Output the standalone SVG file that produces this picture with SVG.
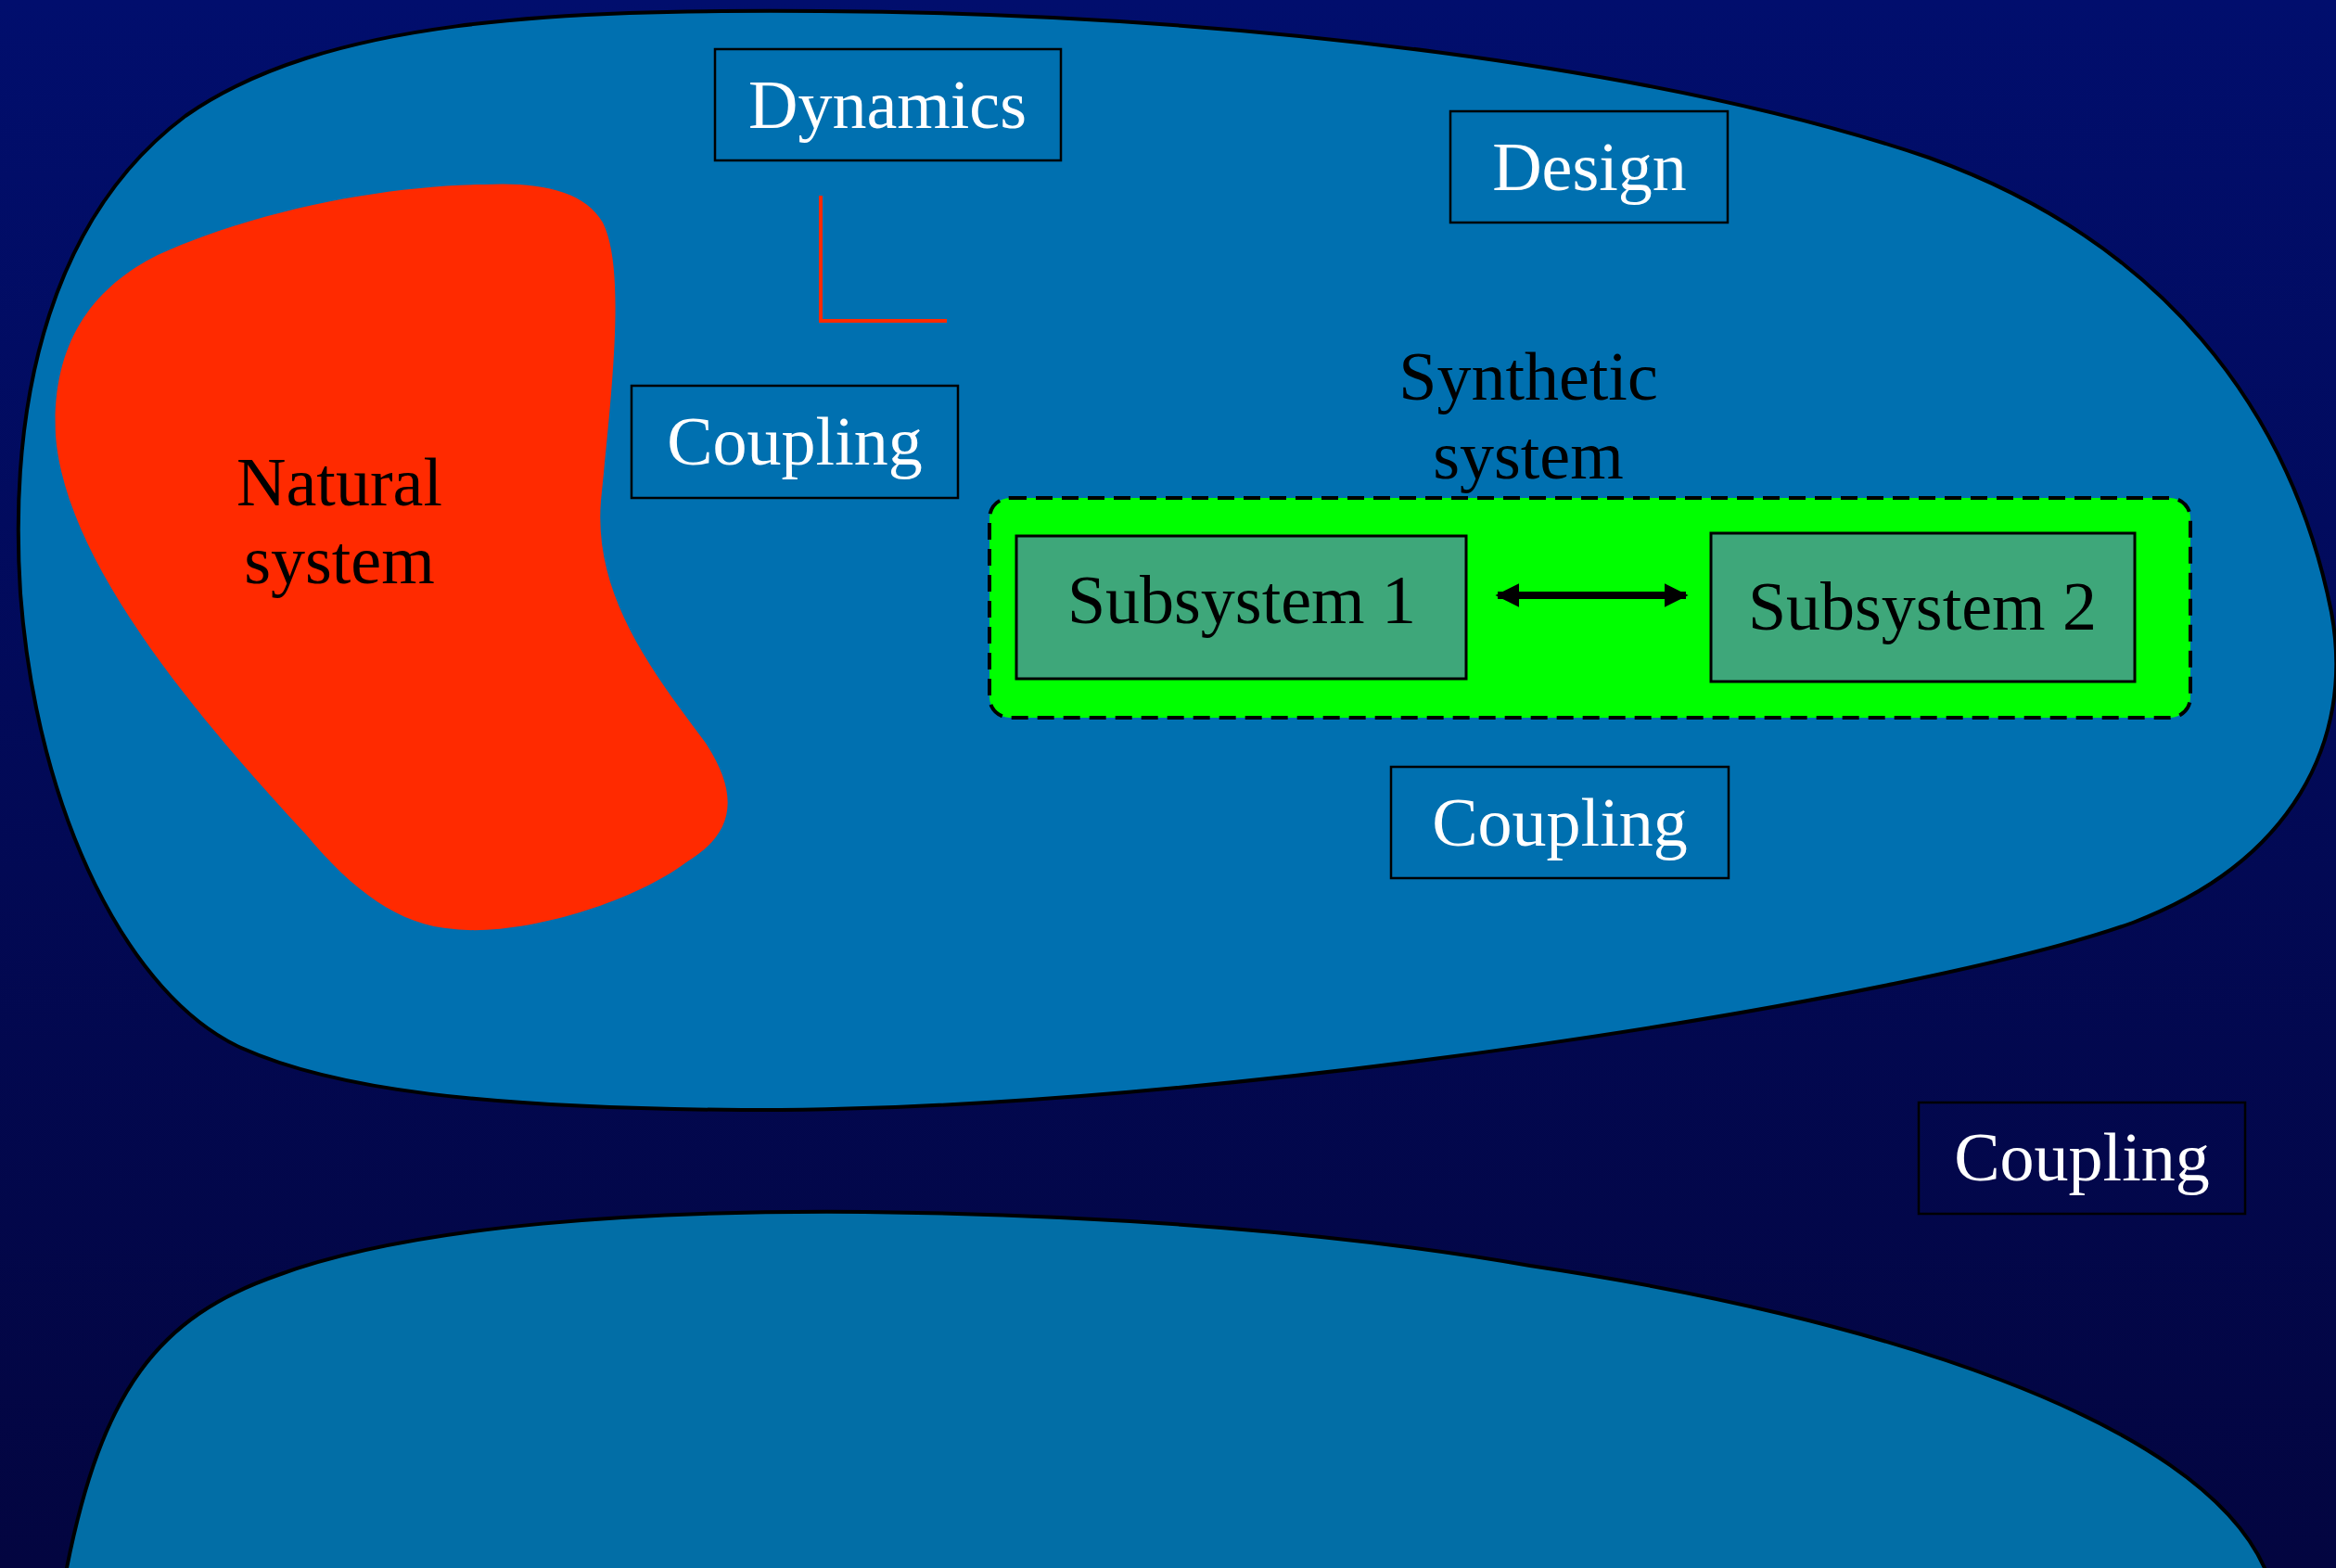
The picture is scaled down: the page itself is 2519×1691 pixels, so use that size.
<svg xmlns="http://www.w3.org/2000/svg" width="2519" height="1691" viewBox="0 0 2519 1691">
<defs>
<linearGradient id="bg" x1="0" y1="0" x2="0" y2="1">
<stop offset="0" stop-color="#010e6d"/>
<stop offset="1" stop-color="#030540"/>
</linearGradient>
<marker id="ah" viewBox="0 0 10 10" refX="9" refY="5" markerWidth="3.2" markerHeight="3.2" orient="auto-start-reverse" markerUnits="strokeWidth">
<path d="M0,0 L10,5 L0,10 Z" fill="#000"/>
</marker>
<style>
.lbl{font-family:"Liberation Serif","Times New Roman",serif;font-size:74px;text-anchor:middle}
.w{fill:#fff}
.k{fill:#000}
.box{fill:none;stroke:#000;stroke-width:2.5}
.sub{fill:#3ea77a;stroke:#000;stroke-width:3}
</style>
</defs>
<rect x="0" y="0" width="2519" height="1691" fill="url(#bg)"/>
<g id="design-space">
<path d="M885,12 C1350,15 1800,75 2080,170 C2330,260 2470,440 2514,660 C2540,800 2470,930 2300,995 C2080,1075 1300,1200 800,1197 C520,1195 360,1175 260,1130 C140,1075 40,880 22,640 C8,420 60,230 200,125 C350,20 600,10 885,12 Z" fill="#0070b0" stroke="#000" stroke-width="4"/>
</g>
<g id="lower-space">
<path d="M72,1691 C110,1500 170,1420 300,1375 C450,1320 700,1305 932,1307 C1200,1310 1450,1330 1650,1365 C2020,1420 2370,1530 2442,1691 L2442,1700 L72,1700 Z" fill="#026ea6" stroke="#000" stroke-width="4"/>
</g>
<g id="natural-system">
<path d="M522,199 C580,196 630,205 650,240 C675,290 660,420 648,540 C640,640 700,720 760,800 C800,860 790,900 740,930 C680,975 560,1010 490,1002 C430,998 380,960 330,900 C200,760 70,600 60,470 C55,370 100,310 170,275 C280,225 420,200 522,199 Z" fill="#ff2a00"/>
<text class="lbl k" x="366" y="545">Natural</text>
<text class="lbl k" x="366" y="629">system</text>
</g>
<g id="dynamics">
<rect class="box" x="771" y="53" width="373" height="120"/>
<text class="lbl w" x="957" y="138">Dynamics</text>
</g>
<g id="coupling-1">
<rect class="box" x="681" y="416" width="352" height="121"/>
<text class="lbl w" x="857" y="501">Coupling</text>
</g>
<g id="design">
<rect class="box" x="1564" y="120" width="299" height="120"/>
<text class="lbl w" x="1714" y="205">Design</text>
</g>
<g id="synthetic-system">
<rect x="1067" y="537" width="1295" height="237" rx="22" ry="22" fill="#00ff00" stroke="#000" stroke-width="4" stroke-dasharray="18 10"/>
<text class="lbl k" x="1648" y="431">Synthetic</text>
<text class="lbl k" x="1648" y="516">system</text>
</g>
<g id="subsystem-1">
<rect class="sub" x="1096" y="578" width="485" height="154"/>
<text class="lbl k" x="1339" y="672">Subsystem 1</text>
</g>
<g id="subsystem-2">
<rect class="sub" x="1845" y="575" width="457" height="160"/>
<text class="lbl k" x="2073" y="679">Subsystem 2</text>
</g>
<g id="coupling-2">
<rect class="box" x="1500" y="827" width="364" height="120"/>
<text class="lbl w" x="1682" y="912">Coupling</text>
</g>
<g id="coupling-3">
<rect class="box" x="2069" y="1189" width="352" height="120"/>
<text class="lbl w" x="2245" y="1273">Coupling</text>
</g>
<g id="connectors">
<path d="M885,211 L885,346 L1021,346" fill="none" stroke="#ff2a00" stroke-width="4"/>
<line x1="1615" y1="642" x2="1818" y2="642" stroke="#000" stroke-width="8" marker-start="url(#ah)" marker-end="url(#ah)"/>
</g>
</svg>
